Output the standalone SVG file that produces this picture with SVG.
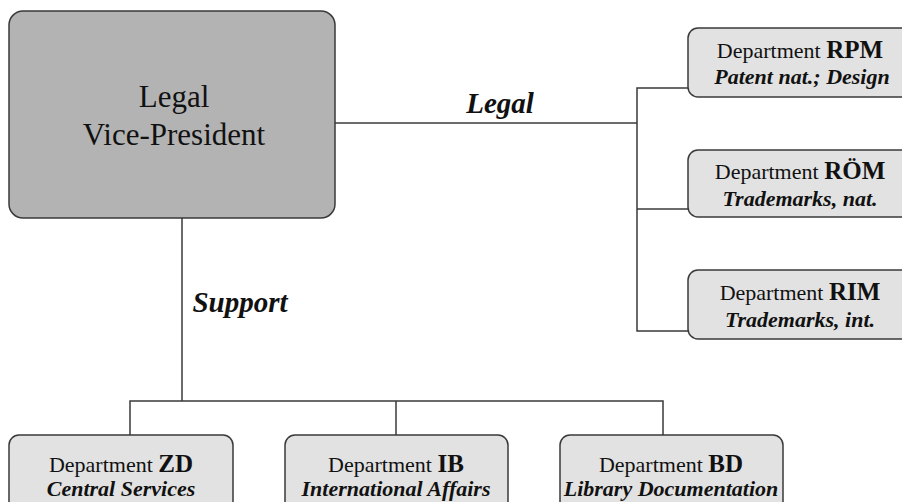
<svg xmlns="http://www.w3.org/2000/svg" width="902" height="502" viewBox="0 0 902 502">
  <style>
    .vp { fill: #b3b3b3; stroke: #3a3a3a; stroke-width: 1.5; }
    .dept { fill: #e2e2e2; stroke: #3a3a3a; stroke-width: 1.5; }
    .wire { fill: none; stroke: #3a3a3a; stroke-width: 1.5; }
    text { font-family: "Liberation Serif", "Times New Roman", serif; fill: #111; text-anchor: middle; }
    .vpt { font-size: 31px; }
    .dn { font-size: 22px; }
    .dn tspan.code { font-weight: bold; font-size: 25px; }
    .sub { font-size: 22px; font-weight: bold; font-style: italic; }
    .lbl { font-size: 29px; font-weight: bold; font-style: italic; }
  </style>
  <rect width="902" height="502" fill="#ffffff"/>

  <g id="connectors">
    <!-- Legal branch -->
    <polyline class="wire" points="335,123 637,123"/>
    <polyline class="wire" points="688,88 637,88 637,331 688,331"/>
    <polyline class="wire" points="637,209 688,209"/>
    <!-- Support branch -->
    <polyline class="wire" points="182,218 182,401"/>
    <polyline class="wire" points="130,435 130,401 663,401 663,435"/>
    <polyline class="wire" points="396,401 396,435"/>
  </g>

  <g id="labels">
    <text class="lbl" x="500" y="113">Legal</text>
    <text class="lbl" x="240" y="312">Support</text>
  </g>

  <g id="vice-president">
    <rect class="vp" x="9" y="11" width="326" height="207" rx="14"/>
    <text class="vpt" x="174" y="107">Legal</text>
    <text class="vpt" x="174" y="145">Vice-President</text>
  </g>

  <g id="dept-rpm">
    <rect class="dept" x="688" y="28" width="226" height="69" rx="10"/>
    <text class="dn" x="800" y="58">Department <tspan class="code">RPM</tspan></text>
    <text class="sub" x="802" y="84">Patent nat.; Design</text>
  </g>

  <g id="dept-rom">
    <rect class="dept" x="688" y="150" width="226" height="67" rx="10"/>
    <text class="dn" x="800" y="179">Department <tspan class="code">RÖM</tspan></text>
    <text class="sub" x="800" y="206">Trademarks, nat.</text>
  </g>

  <g id="dept-rim">
    <rect class="dept" x="688" y="270" width="226" height="69" rx="10"/>
    <text class="dn" x="800" y="300">Department <tspan class="code">RIM</tspan></text>
    <text class="sub" x="800" y="327">Trademarks, int.</text>
  </g>

  <g id="dept-zd">
    <rect class="dept" x="9" y="435" width="224" height="76" rx="10"/>
    <text class="dn" x="121" y="472">Department <tspan class="code">ZD</tspan></text>
    <text class="sub" x="121" y="496">Central Services</text>
  </g>

  <g id="dept-ib">
    <rect class="dept" x="285" y="435" width="223" height="76" rx="10"/>
    <text class="dn" x="396" y="472">Department <tspan class="code">IB</tspan></text>
    <text class="sub" x="396" y="496">International Affairs</text>
  </g>

  <g id="dept-bd">
    <rect class="dept" x="560" y="435" width="223" height="76" rx="10"/>
    <text class="dn" x="671" y="472">Department <tspan class="code">BD</tspan></text>
    <text class="sub" x="671" y="496">Library Documentation</text>
  </g>
</svg>
